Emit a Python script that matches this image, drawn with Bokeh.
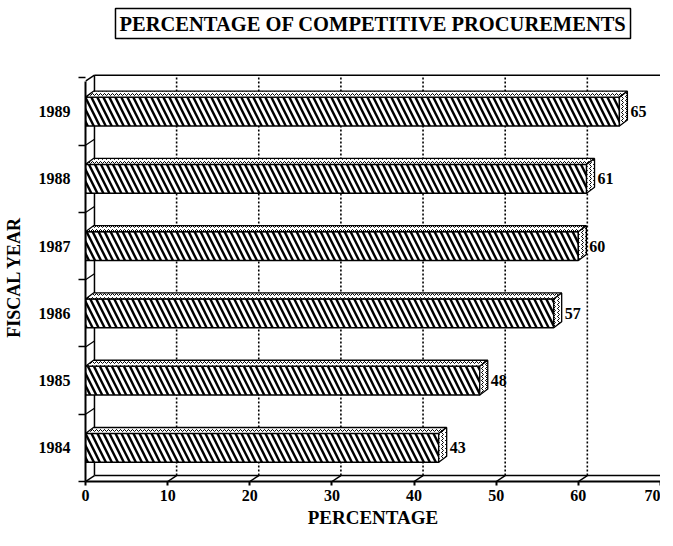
from bokeh.plotting import figure
from bokeh.models import Range1d, FixedTicker, Title
from bokeh.core.properties import value
from bokeh.embed import file_html
from bokeh.resources import INLINE

# ---- data ----
years = ["1984", "1985", "1986", "1987", "1988", "1989"]
percent = [43, 48, 57, 60, 61, 65]
x_ticks = [0, 10, 20, 30, 40, 50, 60, 70]
title_text = "PERCENTAGE OF COMPETITIVE PROCUREMENTS"
x_title = "PERCENTAGE"
y_title = "FISCAL YEAR"

# ---- layout ----
W, H = 660, 530
LEFT, BOTTOM, TOP = 83, 46, 72
XMAX, YMAX = 70, 6.08
pxx = (W - LEFT) / XMAX
pxy = (H - BOTTOM - TOP) / YMAX

FONT = "Liberation Serif"

p = figure(width=W, height=H, x_range=Range1d(0, XMAX), y_range=Range1d(0, YMAX),
           output_backend="svg", toolbar_location=None,
           min_border_left=LEFT, min_border_right=0, min_border_bottom=BOTTOM,
           min_border_top=TOP)
p.outline_line_color = None
p.grid.visible = False
p.background_fill_color = "white"

# blank spacer title next to the frame, real boxed title stacked above it
p.add_layout(Title(text=" ", text_font_size="29px", standoff=0), "above")
p.add_layout(Title(text=title_text, align="center", text_font=FONT,
                   text_font_style="bold", text_font_size="20.5px", text_color="black",
                   border_line_color="black", border_line_width=1.5,
                   background_fill_color="white", padding=4, standoff=0), "above")

# 3D offsets (wall and bar depth)
dxw, dyw = 9 / pxx, 6 / pxy
dxb, dyb = 8 / pxx, 6 / pxy
top = 6.04
n = len(years)
centers = [i + 0.5 for i in range(n)]
bh = 29 / pxy

# back wall & floor
p.segment(x0=[dxw], y0=[dyw], x1=[dxw], y1=[top], line_color="black", line_width=1.5)
p.segment(x0=[dxw], y0=[top], x1=[XMAX + 2], y1=[top], line_color="black", line_width=1.5)
p.segment(x0=[0], y0=[top - dyw], x1=[dxw], y1=[top], line_color="black", line_width=1.5)
p.segment(x0=[dxw], y0=[dyw], x1=[XMAX + 2], y1=[dyw], line_color="black", line_width=1.5)
p.segment(x0=x_ticks, y0=[0] * len(x_ticks), x1=[t + dxw for t in x_ticks],
          y1=[dyw] * len(x_ticks), line_color="black", line_width=1.5)
# category boundaries on left wall
bounds = list(range(n))[1:]
p.segment(x0=[0] * len(bounds), y0=bounds, x1=[dxw] * len(bounds),
          y1=[b + dyw for b in bounds], line_color="black", line_width=1.2)
# dotted grid on back wall
gx = [t + dxw for t in x_ticks[1:]]
p.segment(x0=gx, y0=[dyw] * len(gx), x1=gx, y1=[top] * len(gx),
          line_color="black", line_width=1.6, line_dash="2 2")

# bars: front face
p.hbar(y=centers, left=0, right=percent, height=bh, fill_color="black",
       line_color="black", line_width=1.5, hatch_pattern="\\", hatch_color="white",
       hatch_scale=12, hatch_weight=3)
# top and side faces
tx, ty, rx, ry = [], [], [], []
for c, v in zip(centers, percent):
    t = c + bh / 2
    b = c - bh / 2
    tx.append([0, v, v + dxb, dxb]); ty.append([t, t, t + dyb, t + dyb])
    rx.append([v, v + dxb, v + dxb, v]); ry.append([b, b + dyb, t + dyb, t])
p.patches(tx, ty, fill_color="white", line_color="black", line_width=1.3,
          hatch_pattern="horizontal_wave", hatch_color="black", hatch_scale=4, hatch_weight=1)
p.patches(rx, ry, fill_color="white", line_color="black", line_width=1.3,
          hatch_pattern="vertical_wave", hatch_color="black", hatch_scale=4, hatch_weight=1)

# value labels
p.text(x=[v + dxb + 3 / pxx for v in percent], y=centers, text=[str(v) for v in percent],
       text_font=value(FONT), text_font_style="bold", text_font_size="16px",
       text_baseline="middle", text_align="left", text_color="black")

# axes
xa = p.xaxis[0]
xa.ticker = FixedTicker(ticks=x_ticks)
xa.bounds = (0, XMAX)
xa.axis_line_width = 2
xa.axis_line_color = "black"
xa.major_tick_in = 0
xa.major_tick_out = 4
xa.major_tick_line_width = 2
xa.major_tick_line_color = "black"
xa.minor_tick_line_color = None
xa.major_label_text_font = FONT
xa.major_label_text_font_style = "bold"
xa.major_label_text_font_size = "16px"
xa.major_label_text_color = "black"
xa.major_label_standoff = 4
xa.axis_label = x_title
xa.axis_label_text_font = FONT
xa.axis_label_text_font_style = "bold"
xa.axis_label_text_font_size = "19px"
xa.axis_label_text_color = "black"
xa.axis_label_standoff = 3

ya = p.yaxis[0]
ya.ticker = FixedTicker(ticks=centers, minor_ticks=list(range(n + 1)))
ya.major_label_overrides = {c: y for c, y in zip(centers, years)}
ya.bounds = (0, top - dyw)
ya.axis_line_width = 2
ya.axis_line_color = "black"
ya.major_tick_in = 0
ya.major_tick_out = 0
ya.minor_tick_in = 0
ya.minor_tick_out = 7
ya.minor_tick_line_width = 1.5
ya.minor_tick_line_color = "black"
ya.major_label_text_font = FONT
ya.major_label_text_font_style = "bold"
ya.major_label_text_font_size = "16px"
ya.major_label_text_color = "black"
ya.major_label_standoff = 8
ya.axis_label = y_title
ya.axis_label_text_font = FONT
ya.axis_label_text_font_style = "bold"
ya.axis_label_text_font_size = "18px"
ya.axis_label_text_color = "black"
ya.axis_label_standoff = 12

open("out.html", "w").write(file_html(p, INLINE))
